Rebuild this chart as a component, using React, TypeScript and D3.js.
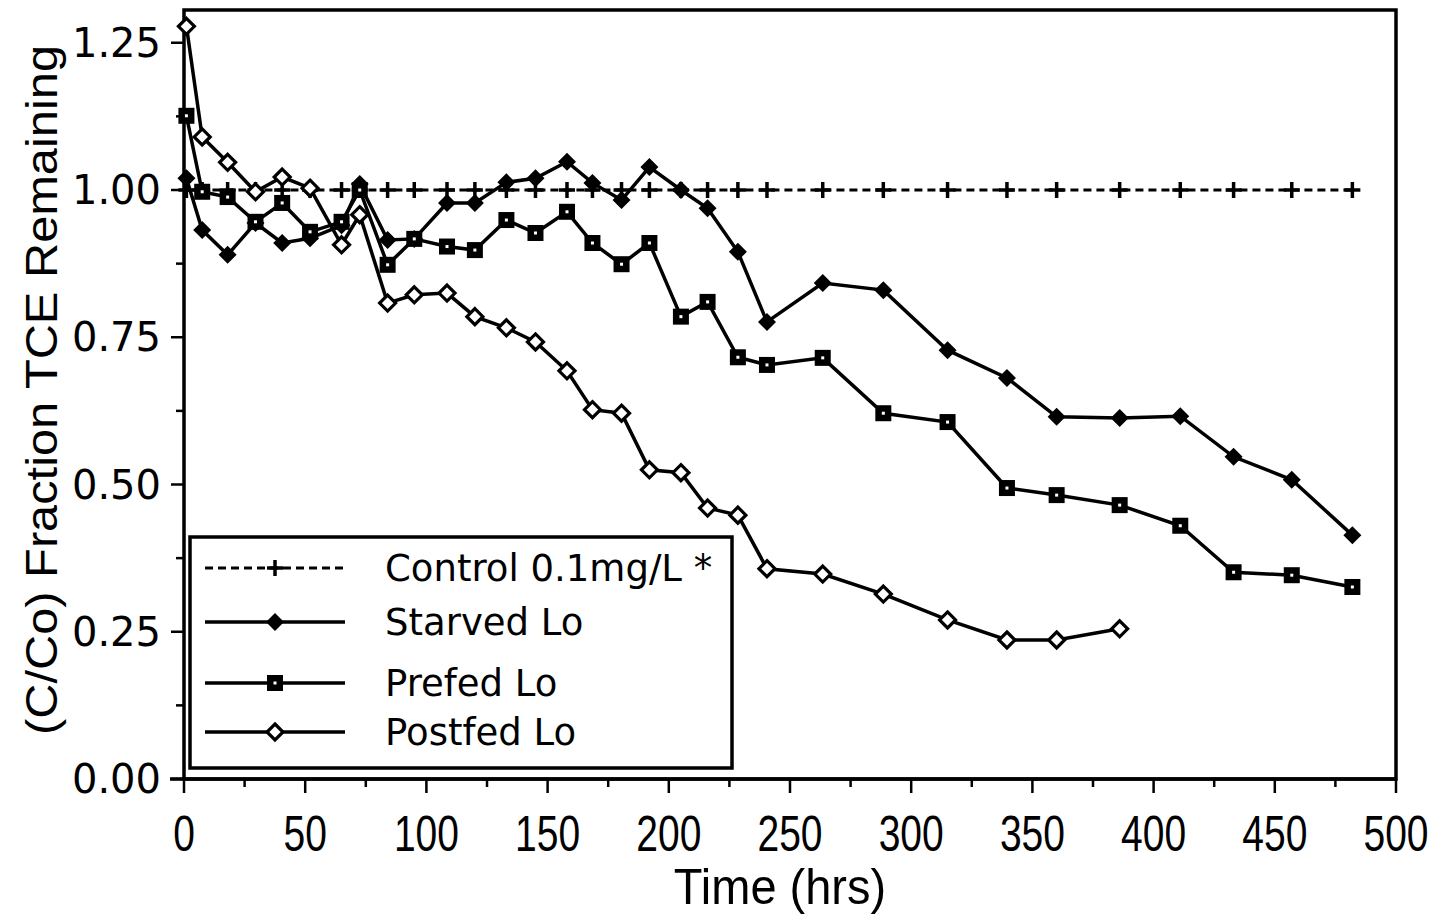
import React from "react";
import * as d3 from "d3";

const times = [1, 7.5, 18, 29.5, 40.5, 52, 65, 72.5, 84, 95, 108.5, 120, 133, 145, 158, 168.5, 180.5, 192, 205, 216, 228.5, 240.5, 263.5, 288.5, 315, 339.5, 360, 386, 411, 433, 457, 482];
const control = [1, 1, 1, 1, 1, 1, 1, 1, 1, 1, 1, 1, 1, 1, 1, 1, 1, 1, 1, 1, 1, 1, 1, 1, 1, 1, 1, 1, 1, 1, 1, 1];
const starved = [1.02, 0.932, 0.89, 0.944, 0.91, 0.918, 0.94, 1.01, 0.915, 0.917, 0.978, 0.978, 1.013, 1.02, 1.048, 1.012, 0.983, 1.039, 1.0, 0.969, 0.895, 0.776, 0.842, 0.83, 0.728, 0.681, 0.615, 0.613, 0.616, 0.547, 0.508, 0.414];
const prefed = [1.126, 0.997, 0.988, 0.946, 0.978, 0.929, 0.946, 1.0, 0.873, 0.917, 0.904, 0.898, 0.949, 0.927, 0.963, 0.91, 0.874, 0.91, 0.785, 0.81, 0.716, 0.703, 0.715, 0.621, 0.606, 0.494, 0.482, 0.465, 0.43, 0.351, 0.346, 0.326];
const postfed = [1.278, 1.09, 1.047, 0.997, 1.022, 1.003, 0.907, 0.958, 0.808, 0.822, 0.825, 0.785, 0.766, 0.742, 0.693, 0.627, 0.621, 0.525, 0.52, 0.46, 0.448, 0.357, 0.348, 0.314, 0.27, 0.236, 0.236, 0.255];

const xTicks = [0, 50, 100, 150, 200, 250, 300, 350, 400, 450, 500];
const xMinor = [25, 75, 125, 175, 225, 275, 325, 375, 425, 475];
const yTicks = [0, 0.25, 0.5, 0.75, 1.0, 1.25];
const yMinor = [0.125, 0.375, 0.625, 0.875, 1.125];
const legendLabels = ["Control 0.1mg/L *", "Starved Lo", "Prefed Lo", "Postfed Lo"];

const W = 1438, H = 917;
const L = 184, R = 1396, T = 10, B = 779;
const narrow = "'Liberation Sans', 'DejaVu Sans', sans-serif";

type Kind = "plus" | "fdiamond" | "square" | "odiamond";

function Marker({ kind, x, y }: { kind: Kind; x: number; y: number }) {
  if (kind === "plus") {
    return (
      <g stroke="#000" strokeWidth={3.5}>
        <line x1={x - 8} x2={x + 8} y1={y} y2={y} />
        <line x1={x} x2={x} y1={y - 8} y2={y + 8} />
      </g>
    );
  }
  if (kind === "fdiamond") {
    const s = 9;
    return <path d={`M${x},${y - s}L${x + s},${y}L${x},${y + s}L${x - s},${y}Z`} fill="#000" />;
  }
  if (kind === "square") {
    const s = 8;
    return (
      <g>
        <rect x={x - s} y={y - s} width={2 * s} height={2 * s} fill="#000" />
        <rect x={x - 1.5} y={y - 1.5} width={3} height={3} fill="#fff" />
      </g>
    );
  }
  const s = 8;
  return <path d={`M${x},${y - s}L${x + s},${y}L${x},${y + s}L${x - s},${y}Z`} fill="#fff" stroke="#000" strokeWidth={3.2} />;
}

export default function App() {
  const x = d3.scaleLinear().domain([0, 500]).range([L, R]);
  const y = d3.scaleLinear().domain([0, (B - T) / 589]).range([B, T]);
  const line = d3.line<[number, number]>().x((d) => x(d[0])).y((d) => y(d[1]));

  const series: { vals: number[]; kind: Kind; dashed: boolean }[] = [
    { vals: control, kind: "plus", dashed: true },
    { vals: starved, kind: "fdiamond", dashed: false },
    { vals: prefed, kind: "square", dashed: false },
    { vals: postfed, kind: "odiamond", dashed: false },
  ];

  const legendY = [568, 622, 683, 732];

  return (
    <svg width={W} height={H} style={{ position: "absolute", left: 0, top: 0, background: "#fff" }}>
      <rect x={0} y={0} width={W} height={H} fill="#fff" />
      {/* frame */}
      <rect x={L} y={T} width={R - L} height={B - T} fill="none" stroke="#000" strokeWidth={3.5} />
      <line x1={170} x2={R} y1={B} y2={B} stroke="#000" strokeWidth={3.5} />
      {/* x ticks */}
      {xTicks.map((t) => (
        <g key={"xt" + t}>
          <line x1={x(t)} x2={x(t)} y1={B} y2={B + 14} stroke="#000" strokeWidth={2.5} />
          <text
            transform={`translate(${x(t)},851) scale(0.78,1)`}
            textAnchor="middle"
            fontFamily={narrow}
            fontSize={50}
          >
            {t}
          </text>
        </g>
      ))}
      {xMinor.map((t) => (
        <line key={"xm" + t} x1={x(t)} x2={x(t)} y1={B} y2={B + 8} stroke="#000" strokeWidth={2.5} />
      ))}
      {/* y ticks */}
      {yTicks.map((t) => (
        <g key={"yt" + t}>
          <line x1={L - 13} x2={L} y1={y(t)} y2={y(t)} stroke="#000" strokeWidth={2.5} />
          <text x={161} y={y(t) + 14} textAnchor="end" fontFamily="'DejaVu Sans', sans-serif" fontSize={40}>
            {d3.format(".2f")(t)}
          </text>
        </g>
      ))}
      {yMinor.map((t) => (
        <line key={"ym" + t} x1={L - 8} x2={L} y1={y(t)} y2={y(t)} stroke="#000" strokeWidth={2.5} />
      ))}
      {/* axis titles */}
      <text transform="translate(780,904) scale(0.94,1)" textAnchor="middle" fontFamily={narrow} fontSize={50}>
        Time (hrs)
      </text>
      <text
        transform="translate(57,390) rotate(-90)"
        textAnchor="middle"
        fontFamily={narrow}
        fontSize={45}
        textLength={690}
        lengthAdjust="spacingAndGlyphs"
      >
        (C/Co) Fraction TCE Remaining
      </text>
      {/* series */}
      {series.map((s, i) => {
        const pts: [number, number][] = s.vals.map((v, j) => [times[j], v]);
        return (
          <g key={"s" + i}>
            <path
              d={line(pts) || ""}
              fill="none"
              stroke="#000"
              strokeWidth={s.dashed ? 2.8 : 3.5}
              strokeDasharray={s.dashed ? "8,5" : undefined}
            />
            {pts.map((p, j) => (
              <Marker key={j} kind={s.kind} x={x(p[0])} y={y(p[1])} />
            ))}
          </g>
        );
      })}
      {/* legend */}
      <rect x={190} y={537} width={542} height={231} fill="#fff" stroke="#000" strokeWidth={3.5} />
      {series.map((s, i) => (
        <g key={"lg" + i}>
          <line
            x1={205}
            x2={345}
            y1={legendY[i]}
            y2={legendY[i]}
            stroke="#000"
            strokeWidth={s.dashed ? 2.8 : 3.5}
            strokeDasharray={s.dashed ? "8,5" : undefined}
          />
          <Marker kind={s.kind} x={275} y={legendY[i]} />
          <text x={385} y={legendY[i] + 13} fontFamily="'DejaVu Sans', sans-serif" fontSize={37}>
            {legendLabels[i]}
          </text>
        </g>
      ))}
    </svg>
  );
}
